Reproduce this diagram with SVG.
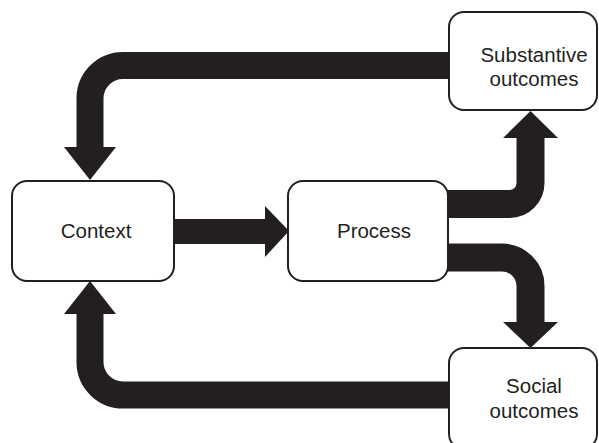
<svg xmlns="http://www.w3.org/2000/svg" width="599" height="443" viewBox="0 0 599 443">
<style>
.box{fill:#fff;stroke:#231f20;stroke-width:2}
.lbl{font-family:"Liberation Sans",Arial,sans-serif;font-size:20.5px;fill:#231f20;text-anchor:middle}
.band{fill:none;stroke:#231f20;stroke-width:27}
.head{fill:#231f20}
</style>
<rect width="599" height="443" fill="#fff"/>
<g id="connectors">
<path class="band" d="M 450 65.5 H 123 A 33 33 0 0 0 90 98.5 V 148"/>
<polygon class="head" points="64,147 116,147 90,180"/>
<path class="band" d="M 450 395 H 123 A 33 33 0 0 1 90 362 V 313"/>
<polygon class="head" points="64,314 116,314 90,281"/>
<rect class="head" x="173" y="219" width="93" height="25"/>
<polygon class="head" points="265,206 265,257 289,231"/>
<path class="band" style="stroke-width:28" d="M 447 204 H 509.5 A 21 21 0 0 0 530.5 183 V 137"/>
<polygon class="head" points="503,138 558,138 530.5,111"/>
<path class="band" style="stroke-width:28" d="M 447 257.5 H 502 A 28.5 28.5 0 0 1 530.5 286 V 323"/>
<polygon class="head" points="503,322 558,322 530.5,348"/>
</g>
<g id="context">
<rect class="box" x="12" y="181" width="162" height="100" rx="15"/>
<text class="lbl" x="96" y="238">Context</text>
</g>
<g id="process">
<rect class="box" x="288" y="181" width="160" height="100" rx="15"/>
<text class="lbl" x="374" y="238">Process</text>
</g>
<g id="substantive">
<rect class="box" x="449" y="12" width="148" height="98" rx="15"/>
<text class="lbl" x="534" y="62">Substantive</text>
<text class="lbl" x="534" y="86">outcomes</text>
</g>
<g id="social">
<rect class="box" x="449" y="348" width="148" height="101" rx="15"/>
<text class="lbl" x="534" y="393">Social</text>
<text class="lbl" x="534" y="418">outcomes</text>
</g>
</svg>
